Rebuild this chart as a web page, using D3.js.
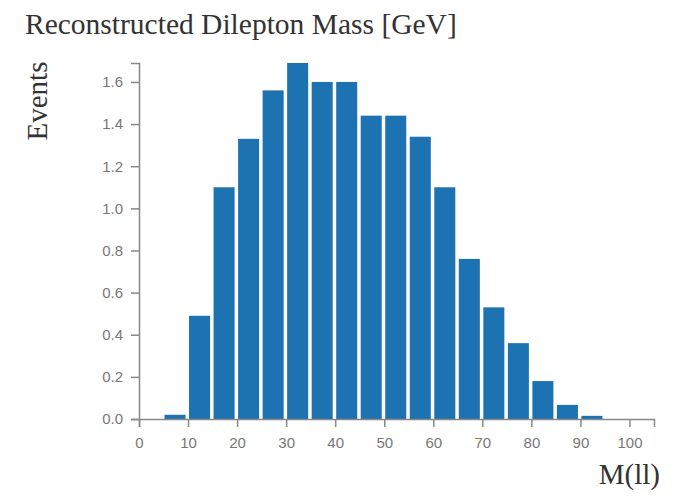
<!DOCTYPE html>
<html>
<head>
<meta charset="utf-8">
<script src="https://cdn.jsdelivr.net/npm/d3@7"></script>
<style>
  html, body { margin: 0; padding: 0; background: #fff; }
  svg { display: block; }
</style>
</head>
<body>
<svg id="chart" width="678" height="501"></svg>
<script>
const binStarts = [5, 10, 15, 20, 25, 30, 35, 40, 45, 50, 55, 60, 65, 70, 75, 80, 85, 90];
const binWidth = 5;
const events = [0.02, 0.49, 1.10, 1.33, 1.56, 1.69, 1.60, 1.60, 1.44, 1.44, 1.34, 1.10, 0.76, 0.53, 0.36, 0.18, 0.067, 0.015];
const xTicks = [0, 10, 20, 30, 40, 50, 60, 70, 80, 90, 100];
const yTicks = [0.0, 0.2, 0.4, 0.6, 0.8, 1.0, 1.2, 1.4, 1.6];
const xDomain = [0, 105];
const yMax = 1.69;

const svg = d3.select("#chart");
const mLeft = 139, mRight = 654, mTop = 63, mBottom = 419;

const x = d3.scaleLinear().domain(xDomain).range([mLeft, mRight]);
const y = d3.scaleLinear().domain([0, yMax]).range([mBottom, mTop]);

// bars
svg.append("g").selectAll("rect")
  .data(binStarts.map((s, i) => ({ s, v: events[i] })))
  .join("rect")
  .attr("x", d => x(d.s) + 1)
  .attr("width", d => x(d.s + binWidth) - x(d.s) - 3.5)
  .attr("y", d => y(d.v))
  .attr("height", d => y(0) - y(d.v))
  .attr("fill", "#1d72b2");

const axisColor = "#888";
const labelColor = "#777";

// x axis
const xAxis = svg.append("g")
  .attr("transform", `translate(0,${mBottom})`)
  .call(d3.axisBottom(x).tickValues(xTicks).tickSizeOuter(8).tickSizeInner(8).tickPadding(10));
// y axis
const yAxis = svg.append("g")
  .attr("transform", `translate(${mLeft},0)`)
  .call(d3.axisLeft(y).tickValues(yTicks).tickFormat(d3.format(".1f")).tickSizeOuter(8).tickSizeInner(8).tickPadding(8));

[xAxis, yAxis].forEach(g => {
  g.selectAll("path, line").attr("stroke", axisColor).attr("stroke-width", 1.5);
  g.selectAll("text").attr("fill", labelColor)
    .style("font-family", "'Liberation Sans', Arial, sans-serif")
    .style("font-size", "15px");
});

// title
svg.append("text")
  .attr("x", 25).attr("y", 34)
  .style("font-family", "'Liberation Serif', 'Times New Roman', serif")
  .style("font-size", "29.5px")
  .attr("fill", "#333")
  .text("Reconstructed Dilepton Mass [GeV]");

// y label
svg.append("text")
  .attr("transform", "translate(47,101) rotate(-90)")
  .attr("text-anchor", "middle")
  .style("font-family", "'Liberation Serif', 'Times New Roman', serif")
  .style("font-size", "29px")
  .attr("fill", "#333")
  .text("Events");

// x label
svg.append("text")
  .attr("x", 660).attr("y", 484)
  .attr("text-anchor", "end")
  .style("font-family", "'Liberation Serif', 'Times New Roman', serif")
  .style("font-size", "29px")
  .attr("fill", "#333")
  .text("M(ll)");
</script>
</body>
</html>
